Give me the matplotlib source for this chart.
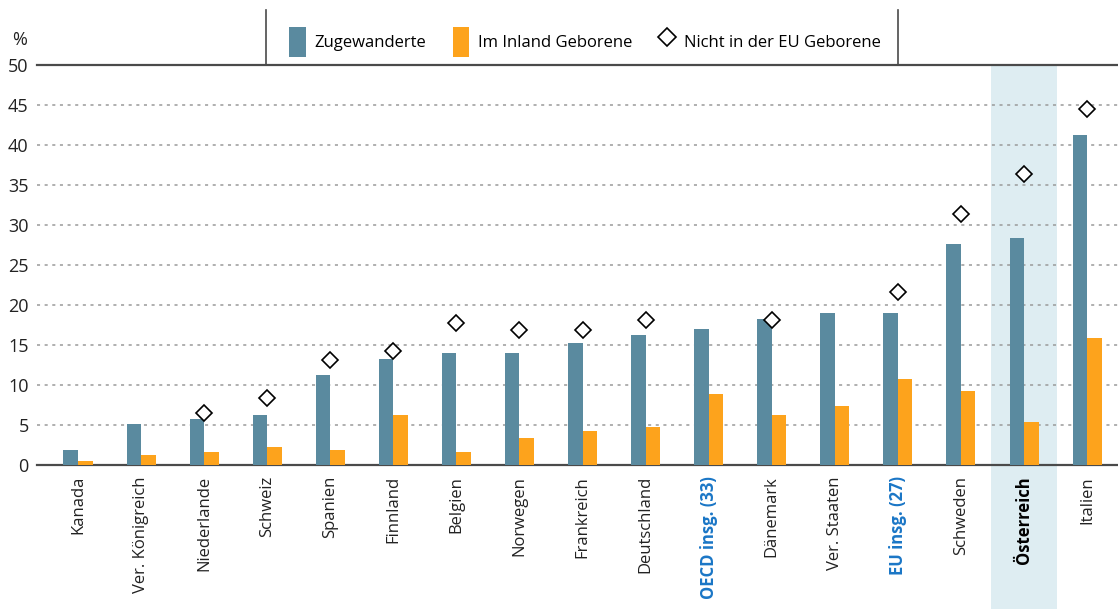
import matplotlib
matplotlib.use("Agg")
import matplotlib.pyplot as plt
from matplotlib.lines import Line2D
from matplotlib.patches import Patch
import numpy as np

plt.rcParams['font.family'] = ['Open Sans', 'DejaVu Sans']

# Anteil in %, nach Land
countries = ['Kanada', 'Ver. Königreich', 'Niederlande', 'Schweiz', 'Spanien',
             'Finnland', 'Belgien', 'Norwegen', 'Frankreich', 'Deutschland',
             'OECD insg. (33)', 'Dänemark', 'Ver. Staaten', 'EU insg. (27)',
             'Schweden', 'Österreich', 'Italien']
immigrants = [1.9, 5.1, 5.8, 6.2, 11.3, 13.2, 14.0, 14.0, 15.2, 16.3,
              17.0, 18.2, 19.0, 19.0, 27.6, 28.4, 41.3]
native_born = [0.45, 1.2, 1.6, 2.3, 1.9, 6.2, 1.6, 3.4, 4.3, 4.7,
               8.9, 6.2, 7.4, 10.8, 9.3, 5.4, 15.9]
non_eu_born = [None, None, 6.5, 8.4, 13.1, 14.3, 17.7, 16.9, 16.9, 18.1,
               None, 18.1, None, 21.6, 31.4, 36.4, 44.5]
aggregates = ['OECD insg. (33)', 'EU insg. (27)']
highlight = 'Österreich'

TEAL = '#5a8a9f'
ORANGE = '#fda31c'
BAND = '#deedf2'
BLUE = '#1a76c6'
DARK = '#4a4a4a'

fig = plt.figure(figsize=(11.18, 6.09), dpi=100)
ax = fig.add_axes([37 / 1118, 1 - 465 / 609, 1 - 37 / 1118, 400 / 609])

x = np.arange(len(countries))
w = 0.23
ax.bar(x - w / 2, immigrants, width=w, color=TEAL, zorder=3)
ax.bar(x + w / 2, native_born, width=w, color=ORANGE, zorder=3)

pts = [(i, v) for i, v in enumerate(non_eu_born) if v is not None]
ax.plot([p[0] for p in pts], [p[1] for p in pts], linestyle='none', marker='D',
        markersize=8.5, markerfacecolor='white', markeredgecolor='black',
        markeredgewidth=1.2, zorder=4)

# Hervorhebung Österreich
hi = countries.index(highlight)
ax.axvspan(hi - 0.52, hi + 0.52, ymin=-0.36, ymax=1, color=BAND, zorder=0,
           clip_on=False, lw=0)

ax.set_xlim(-0.65, len(countries) - 0.51)
ax.set_ylim(0, 50)
ax.set_yticks(range(0, 51, 5))
ax.tick_params(axis='y', length=0, labelsize=13, pad=6, labelcolor='#222222')
ax.tick_params(axis='x', length=0, pad=8)
for y in range(5, 50, 5):
    ax.axhline(y, color='#9a9a9a', linestyle=(0, (2, 3)), lw=1.1, zorder=1)

ax.set_xticks(x)
ax.set_xticklabels(countries, rotation=90, va='top', ha='center', fontsize=12)
for lbl in ax.get_xticklabels():
    t = lbl.get_text()
    if t in aggregates:
        lbl.set_color(BLUE)
        lbl.set_fontweight('bold')
    elif t == highlight:
        lbl.set_fontweight('bold')
        lbl.set_color('black')
    else:
        lbl.set_color('#222222')

for s in ['left', 'right']:
    ax.spines[s].set_visible(False)
for s in ['top', 'bottom']:
    ax.spines[s].set_color(DARK)
    ax.spines[s].set_linewidth(1.6)
ax.set_facecolor('none')

fig.text(12 / 1118, 1 - 40 / 609, '%', fontsize=13, color='#222222', va='center')

# Legende oberhalb der Grafik
handles = [Patch(facecolor=TEAL, edgecolor='none'),
           Patch(facecolor=ORANGE, edgecolor='none'),
           Line2D([], [], linestyle='none', marker='D', markersize=9,
                  markerfacecolor='white', markeredgecolor='black',
                  markeredgewidth=1.2)]
labels = ['Zugewanderte', 'Im Inland Geborene', 'Nicht in der EU Geborene']
fig.legend(handles, labels, loc='center', bbox_to_anchor=(585 / 1118, 1 - 42 / 609),
           ncol=3, frameon=False, fontsize=12, handlelength=1.0,
           handleheight=2.4, handletextpad=0.5, columnspacing=1.6)
for xpos in (266, 898):
    fig.add_artist(Line2D([xpos / 1118, xpos / 1118], [1 - 10 / 609, 1 - 65 / 609],
                          color=DARK, lw=1.2))

fig.savefig('out.png', dpi=100)
